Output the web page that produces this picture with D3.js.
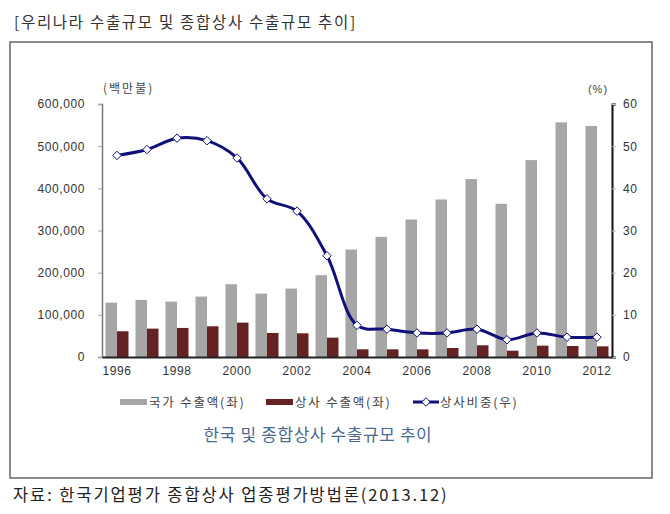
<!DOCTYPE html>
<html><head><meta charset="utf-8">
<script src="https://cdn.jsdelivr.net/npm/d3@7"></script>
<style>
html,body{margin:0;padding:0;background:#fff;}
svg{display:block;}
</style></head>
<body>
<svg id="c" width="670" height="514"></svg>
<script>
const years = [1996,1997,1998,1999,2000,2001,2002,2003,2004,2005,2006,2007,2008,2009,2010,2011,2012];
const nationExports = [129000,135400,131400,143300,172600,150400,162300,194000,254900,285000,326100,373600,421900,363300,467000,556500,547800];
const tradingExports = [61000,67300,68900,72800,81500,57000,56200,45900,18200,18200,18200,21400,27700,15000,26900,26100,25300];
const tradingShare = [47.8,49.2,51.9,51.3,47.2,37.5,34.6,24.0,7.5,6.6,5.7,5.7,6.6,4.1,5.7,4.7,4.7];
const leftTicks = [0,100000,200000,300000,400000,500000,600000];
const rightTicks = [0,10,20,30,40,50,60];
const yearLabels = [1996,1998,2000,2002,2004,2006,2008,2010,2012];
const seriesNames = ["국가 수출액(좌)","상사 수출액(좌)","상사비중(우)"];
const titleText = "[우리나라 수출규모 및 종합상사 수출규모 추이]";
const chartCaption = "한국 및 종합상사 수출규모 추이";
const sourceText = "자료: 한국기업평가 종합상사 업종평가방법론(2013.12)";

const KR = "'Noto Sans CJK KR','Noto Sans',sans-serif";
const NUM = "'Liberation Sans',Arial,sans-serif";
const grayC = "#a6a6a6", redC = "#652222", navy = "#10107a";

const svg = d3.select("#c");
svg.append("rect").attr("width",670).attr("height",514).attr("fill","#fff");

svg.append("text").attr("x",14).attr("y",28).attr("font-family",KR).attr("font-size",15.5)
  .attr("letter-spacing","1.7px").attr("fill","#333").text(titleText);

svg.append("rect").attr("x",10).attr("y",42).attr("width",642).attr("height",436)
  .attr("fill","none").attr("stroke","#6e6e6e").attr("stroke-width",1.6);

const L=102, R=612, T=104, B=357;
const x = d3.scaleBand().domain(years).range([L,R]).padding(0);
const x1 = d3.scaleBand().domain(["n","t"]).range([3.5, x.bandwidth()-3.5]).padding(0);
const yL = d3.scaleLinear().domain([0,600000]).range([B,T]);
const yR = d3.scaleLinear().domain([0,60]).range([B,T]);

// bars
const g = svg.append("g");
g.selectAll("rect.n").data(years).enter().append("rect")
  .attr("x",(d)=>x(d)+x1("n")).attr("width",x1.bandwidth())
  .attr("y",(d,i)=>yL(nationExports[i])).attr("height",(d,i)=>B-yL(nationExports[i]))
  .attr("fill",grayC);
g.selectAll("rect.t").data(years).enter().append("rect")
  .attr("x",(d)=>x(d)+x1("t")).attr("width",x1.bandwidth())
  .attr("y",(d,i)=>yL(tradingExports[i])).attr("height",(d,i)=>B-yL(tradingExports[i]))
  .attr("fill",redC);

// left axis
const axL = svg.append("g").attr("transform",`translate(${L},0)`)
  .call(d3.axisLeft(yL).tickValues(leftTicks).tickFormat(d3.format(",")).tickSize(4).tickPadding(13));
axL.select(".domain").attr("stroke","#7a7a7a").attr("stroke-width",1.5);
axL.selectAll(".tick line").attr("stroke","#aaa");
axL.selectAll("text").attr("font-family",NUM).attr("font-size",12).attr("fill","#333").attr("letter-spacing","0.6px");

// right axis
const axR = svg.append("g").attr("transform",`translate(${R},0)`)
  .call(d3.axisRight(yR).tickValues(rightTicks).tickSize(4).tickPadding(7));
axR.select(".domain").attr("stroke","#111").attr("stroke-width",2);
axR.selectAll(".tick line").attr("stroke","#bbb");
axR.selectAll("text").attr("font-family",NUM).attr("font-size",12).attr("fill","#333").attr("letter-spacing","0.6px");

// bottom axis
const axB = svg.append("g").attr("transform",`translate(0,${B})`)
  .call(d3.axisBottom(x).tickValues(yearLabels).tickSize(0).tickPadding(9));
axB.select(".domain").attr("stroke","#222").attr("stroke-width",2);
axB.selectAll("text").attr("font-family",NUM).attr("font-size",12).attr("fill","#333").attr("letter-spacing","0.6px");

// units
svg.append("text").attr("x",103).attr("y",93).attr("font-family",KR).attr("font-size",12)
  .attr("letter-spacing","2px").attr("fill","#444").text("(백만불)");
svg.append("text").attr("x",598).attr("y",93).attr("text-anchor","middle").attr("font-family",NUM)
  .attr("font-size",11).attr("letter-spacing","1px").attr("fill","#444").text("(%)");

// line
const cx = d => x(d)+x.bandwidth()/2;
const line = d3.line().x((d,i)=>cx(years[i])).y(d=>yR(d)).curve(d3.curveCatmullRom.alpha(0.5));
svg.append("path").datum(tradingShare).attr("d",line).attr("fill","none")
  .attr("stroke",navy).attr("stroke-width",3);
const diamond = d3.symbol().type(d3.symbolDiamond2).size(46);
svg.selectAll("path.m").data(tradingShare).enter().append("path")
  .attr("d",diamond).attr("transform",(d,i)=>`translate(${cx(years[i])},${yR(d)})`)
  .attr("fill","#fff").attr("stroke",navy).attr("stroke-width",1);

// legend
const lg = svg.append("g");
const ly = 402;
const legendText = (xx, s) => lg.append("text").attr("x",xx).attr("y",ly+4.5).attr("font-family",KR)
  .attr("font-size",12.5).attr("letter-spacing","1.8px").attr("fill","#444").text(s);
lg.append("rect").attr("x",120).attr("y",ly-3).attr("width",27).attr("height",6).attr("fill",grayC);
legendText(149, seriesNames[0]);
lg.append("rect").attr("x",266).attr("y",ly-3).attr("width",27).attr("height",6).attr("fill",redC);
legendText(295, seriesNames[1]);
lg.append("line").attr("x1",413).attr("x2",439).attr("y1",ly).attr("y2",ly).attr("stroke",navy).attr("stroke-width",3);
lg.append("path").attr("d",diamond).attr("transform",`translate(426,${ly})`).attr("fill","#fff").attr("stroke",navy);
legendText(440, seriesNames[2]);

svg.append("text").attr("x",318).attr("y",441).attr("text-anchor","middle").attr("font-family",KR)
  .attr("font-size",17).attr("letter-spacing","0.6px").attr("fill","#4a6a90").text(chartCaption);

svg.append("text").attr("x",13).attr("y",501).attr("font-family",KR).attr("font-size",16.5)
  .attr("letter-spacing","1.9px").attr("fill","#222").text(sourceText);
</script>
</body></html>
